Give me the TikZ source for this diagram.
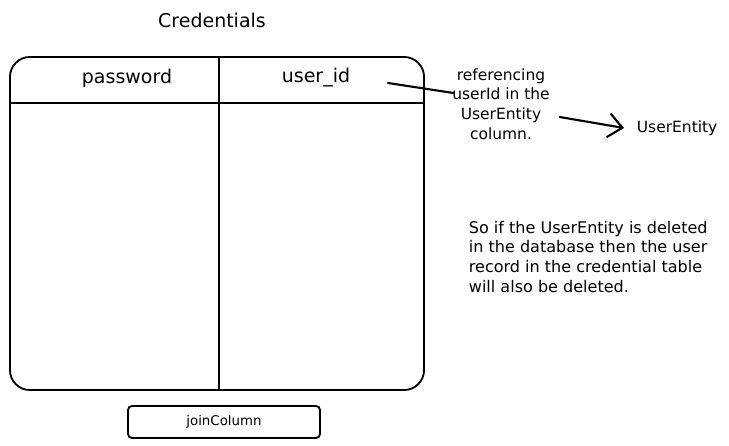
\documentclass[tikz,border=0pt]{standalone}
\usepackage{fontspec}
\setmainfont{DejaVu Sans}
\usetikzlibrary{positioning,calc,arrows.meta}

\begin{document}
\begin{tikzpicture}[
    x=0.025cm, y=-0.025cm,
    font=\fontsize{11}{14}\selectfont,
    line width=1.3pt,
    txt/.style={inner sep=0pt},
    head/.style={inner sep=0pt, font=\fontsize{13.5}{16}\selectfont},
    notetext/.style={inner sep=0pt, align=center},
    conn/.style={line width=1.5pt, line cap=round},
    keybox/.style={draw, rounded corners=0.1cm, minimum width=4.8cm, minimum height=0.8cm, font=\fontsize{9.5}{12}\selectfont}
]
\useasboundingbox (0,0) rectangle (729,446);

% Title
\node (title) [head] at (212,20) {Credentials};

% Table with two columns
\node (tbl) [draw, rounded corners=0.5cm, minimum width=10.35cm, minimum height=8.325cm] at (217,223.5) {};
\draw[line width=1.8pt] ($(tbl.north west)+(0,47)$) -- ($(tbl.north east)+(0,47)$);
\draw ($(tbl.north)+(2,0)$) -- ($(tbl.south)+(2,0)$);

% Column headers
\node (pwd) [head] at (127,78) {password};
\node (uid) [head] at (316,78) {user\_id};

% Annotation for user_id
\node (ref) [notetext] at (501,104) {referencing\\userId in the\\UserEntity\\column.};
\node (ent) [txt, anchor=west] at (636,128) {UserEntity};

\draw[conn] ($(uid.east)+(37,5)$) -- ($(ref.west)+(2,-11)$);
\draw[conn, -{Straight Barb[length=3.5mm,width=6mm]}] ($(ref.east)+(9,13)$) -- ($(ent.west)+(-12,0)$);

% Note on deletion
\node (rule) [txt, align=left, anchor=north west, font=\fontsize{11.4}{14}\selectfont] at (468,220) {So if the UserEntity is deleted\\in the database then the user\\record in the credential table\\will also be deleted.};

% Join column box
\node (join) [keybox] at (224,422) {joinColumn};

\end{tikzpicture}
\end{document}
